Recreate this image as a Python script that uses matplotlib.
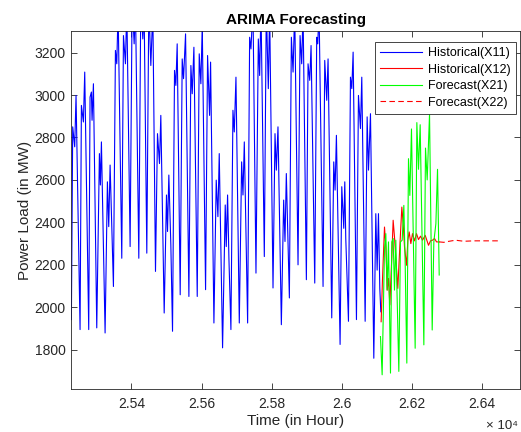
import numpy as np
import matplotlib
matplotlib.use('Agg')
import matplotlib.pyplot as plt

plt.rcParams['font.family'] = ['Liberation Sans', 'DejaVu Sans']

# Historical(X11): hourly load, key points (hour, MW)
x11_hour = [25228.6, 25232.4, 25238.1, 25241.9, 25253.4, 25257.2, 25262.9, 25266.7, 25278.1, 25281.9,
            25285.7, 25287.6, 25291.5, 25301.0, 25308.6, 25311.4, 25314.3, 25324.8, 25331.4, 25335.2,
            25339.1, 25348.6, 25354.3, 25358.1, 25361.9, 25372.4, 25377.2, 25382.9, 25386.7, 25396.2,
            25402.0, 25407.7, 25411.5, 25421.0, 25426.7, 25432.4, 25436.2, 25443.8, 25449.6, 25455.3,
            25461.0, 25468.6, 25474.3, 25480.0, 25483.8, 25493.4, 25500.0, 25502.9, 25506.7, 25512.4,
            25517.2, 25522.9, 25526.7, 25530.5, 25539.1, 25544.8, 25548.6, 25554.4, 25563.9, 25569.6,
            25573.4, 25578.2, 25587.7, 25593.4, 25598.1, 25602.0, 25611.5, 25617.2, 25622.9, 25625.8,
            25635.3, 25641.9, 25646.7, 25650.5, 25660.0, 25667.6, 25670.5, 25674.3, 25678.1, 25683.8,
            25689.6, 25693.4, 25698.2, 25707.7, 25714.4, 25718.2, 25722.0, 25731.5, 25737.2, 25741.0,
            25746.7, 25755.3, 25762.0, 25765.8, 25769.6, 25779.1, 25784.8, 25790.5, 25794.3, 25803.9,
            25809.6, 25813.4, 25818.1, 25827.7, 25834.3, 25838.1, 25841.9, 25850.6, 25856.3, 25861.1,
            25865.8, 25875.3, 25881.1, 25885.8, 25889.6, 25899.1, 25903.9, 25908.7, 25912.5, 25923.0,
            25928.6, 25931.5, 25935.3, 25946.7, 25951.5, 25957.2, 25961.0, 25971.5, 25977.2, 25981.0,
            25984.8, 25995.3, 26000.1, 26005.8, 26008.7, 26011.5, 26019.2, 26024.9, 26028.7, 26032.5,
            26042.0, 26047.7, 26053.4, 26057.2, 26066.8, 26072.5, 26076.3, 26082.0, 26091.5, 26097.2,
            26101.0, 26104.8, 26108.6, 26111.5]
x11_load = [1942, 2850, 2756, 2998, 1895, 2951, 2873, 3108, 1895, 2990,
            3014, 2881, 3053, 1903, 2724, 2576, 2779, 1879, 2591, 2380,
            2670, 2098, 3210, 3147, 3400, 2231, 3280, 3147, 3420, 2286,
            3450, 3241, 3420, 2231, 3450, 3264, 3400, 2255, 3430, 3139,
            3400, 2169, 2818, 2677, 2904, 1973, 2529, 2357, 2623, 2294,
            1887, 3116, 3045, 3241, 2059, 3170, 3077, 3288, 2051, 3139,
            3006, 3225, 2051, 3194, 3053, 3330, 2083, 3186, 2904, 3155,
            1926, 2599, 2427, 2724, 1809, 2482, 2286, 2529, 2231, 1895,
            2928, 2826, 3084, 1926, 2685, 2529, 2779, 1926, 3272, 3217,
            3420, 2161, 3264, 3092, 3420, 2239, 3420, 3030, 3400, 2091,
            2818, 2646, 2850, 1918, 2505, 2310, 2630, 2044, 3272, 3108,
            3400, 2200, 3280, 3147, 3400, 2130, 3147, 3069, 3233, 2114,
            3272, 3241, 3400, 2098, 3163, 2975, 3170, 1950, 2685, 2552,
            2810, 1825, 2568, 2372, 2591, 2325, 1934, 3084, 3030, 3202,
            1942, 2998, 2842, 3084, 1934, 2897, 2646, 2912, 1760, 2441,
            2175, 2441, 2089, 1979]

# Historical(X12)
x12_hour = [26112.4, 26116.2, 26122.0, 26125.8, 26129.6, 26133.4, 26137.2, 26142.9, 26146.7, 26150.5,
            26154.3, 26160.0, 26165.7, 26171.5, 26175.3, 26179.1, 26184.8, 26188.6, 26192.4, 26197.2,
            26201.9, 26207.6, 26213.3, 26219.0, 26224.8, 26230.5, 26238.1, 26247.6, 26253.3, 26259.0,
            26264.7, 26270.5, 26278.1]
x12_load = [1932, 2128, 2378, 2285, 2081, 2136, 2011, 2238, 2410, 2332,
            2230, 2089, 2285, 2472, 2394, 2285, 2198, 2316, 2355, 2300,
            2347, 2313, 2347, 2319, 2335, 2316, 2339, 2292, 2313, 2316,
            2324, 2308, 2308]

# Forecast(X21)
x21_hour = [26110.5, 26115.3, 26122.0, 26125.8, 26129.6, 26133.4, 26139.1, 26142.9, 26146.7, 26150.5,
            26154.3, 26162.9, 26167.6, 26172.4, 26177.2, 26181.0, 26185.7, 26190.5, 26194.3, 26199.0,
            26209.5, 26214.3, 26219.0, 26223.8, 26234.3, 26239.0, 26243.8, 26250.5, 26258.1, 26262.8,
            26268.6, 26273.3, 26278.1]
x21_load = [1862, 1682, 2277, 2347, 2081, 2308, 1690, 2308, 2324, 2081,
            2316, 1698, 2308, 2316, 2480, 2206, 1737, 2700, 2527, 2840,
            1807, 2870, 2650, 2860, 1823, 2750, 2600, 2910, 1893, 2308,
            2394, 2650, 2152]

# Forecast(X22)
x22_hour = [26278.1, 26291.4, 26302.8, 26324.7, 26348.5, 26377.0, 26415.2, 26448.5]
x22_load = [2308, 2306, 2310, 2316, 2311, 2313, 2313, 2313]

xtick_vals = [25400, 25600, 25800, 26000, 26200, 26400]
xtick_labels = ['2.54', '2.56', '2.58', '2.6', '2.62', '2.64']
ytick_vals = [1800, 2000, 2200, 2400, 2600, 2800, 3000, 3200]

dark = '#262626'

fig = plt.figure(figsize=(5.21, 4.32), dpi=100)
ax = fig.add_axes([0.137, 0.0995, 0.862, 0.828])

ax.plot(x11_hour, x11_load, color=(0, 0, 1), lw=0.8, label='Historical(X11)')
ax.plot(x12_hour, x12_load, color=(1, 0, 0), lw=0.8, label='Historical(X12)')
ax.plot(x21_hour, x21_load, color=(0, 1, 0), lw=0.8, label='Forecast(X21)')
ax.plot(x22_hour, x22_load, color=(1, 0, 0), lw=0.8, ls=(0, (5, 3)), label='Forecast(X22)')

ax.set_xlim(25228.6, 26510)
ax.set_ylim(1615, 3300)
ax.set_xticks(xtick_vals)
ax.set_xticklabels(xtick_labels)
ax.set_yticks(ytick_vals)

ax.tick_params(direction='in', top=True, right=True, length=4, width=0.6,
               colors=dark, labelsize=10)
ax.tick_params(axis='x', pad=6)
ax.tick_params(axis='y', pad=4)
for sp in ax.spines.values():
    sp.set_color(dark)
    sp.set_linewidth(0.6)

ax.set_title('ARIMA Forecasting', fontsize=11, fontweight='bold', color='black', pad=5)
ax.set_xlabel('Time (in Hour)', fontsize=11, color=dark, labelpad=2)
ax.set_ylabel('Power Load (in MW)', fontsize=11, color=dark, labelpad=2)

leg = ax.legend(loc='upper right', bbox_to_anchor=(0.989, 0.969), borderaxespad=0,
                fontsize=9, handlelength=3.3, handletextpad=0.5, labelspacing=0.35,
                borderpad=0.4, fancybox=False, framealpha=1)
leg.get_frame().set_edgecolor(dark)
leg.get_frame().set_linewidth(0.6)
for t in leg.get_texts():
    t.set_color('black')

fig.text(518 / 521, 1 - 426 / 432, '× 10⁴', fontsize=9.5, color=dark, va='center', ha='right')

fig.savefig('out.png', dpi=100)
